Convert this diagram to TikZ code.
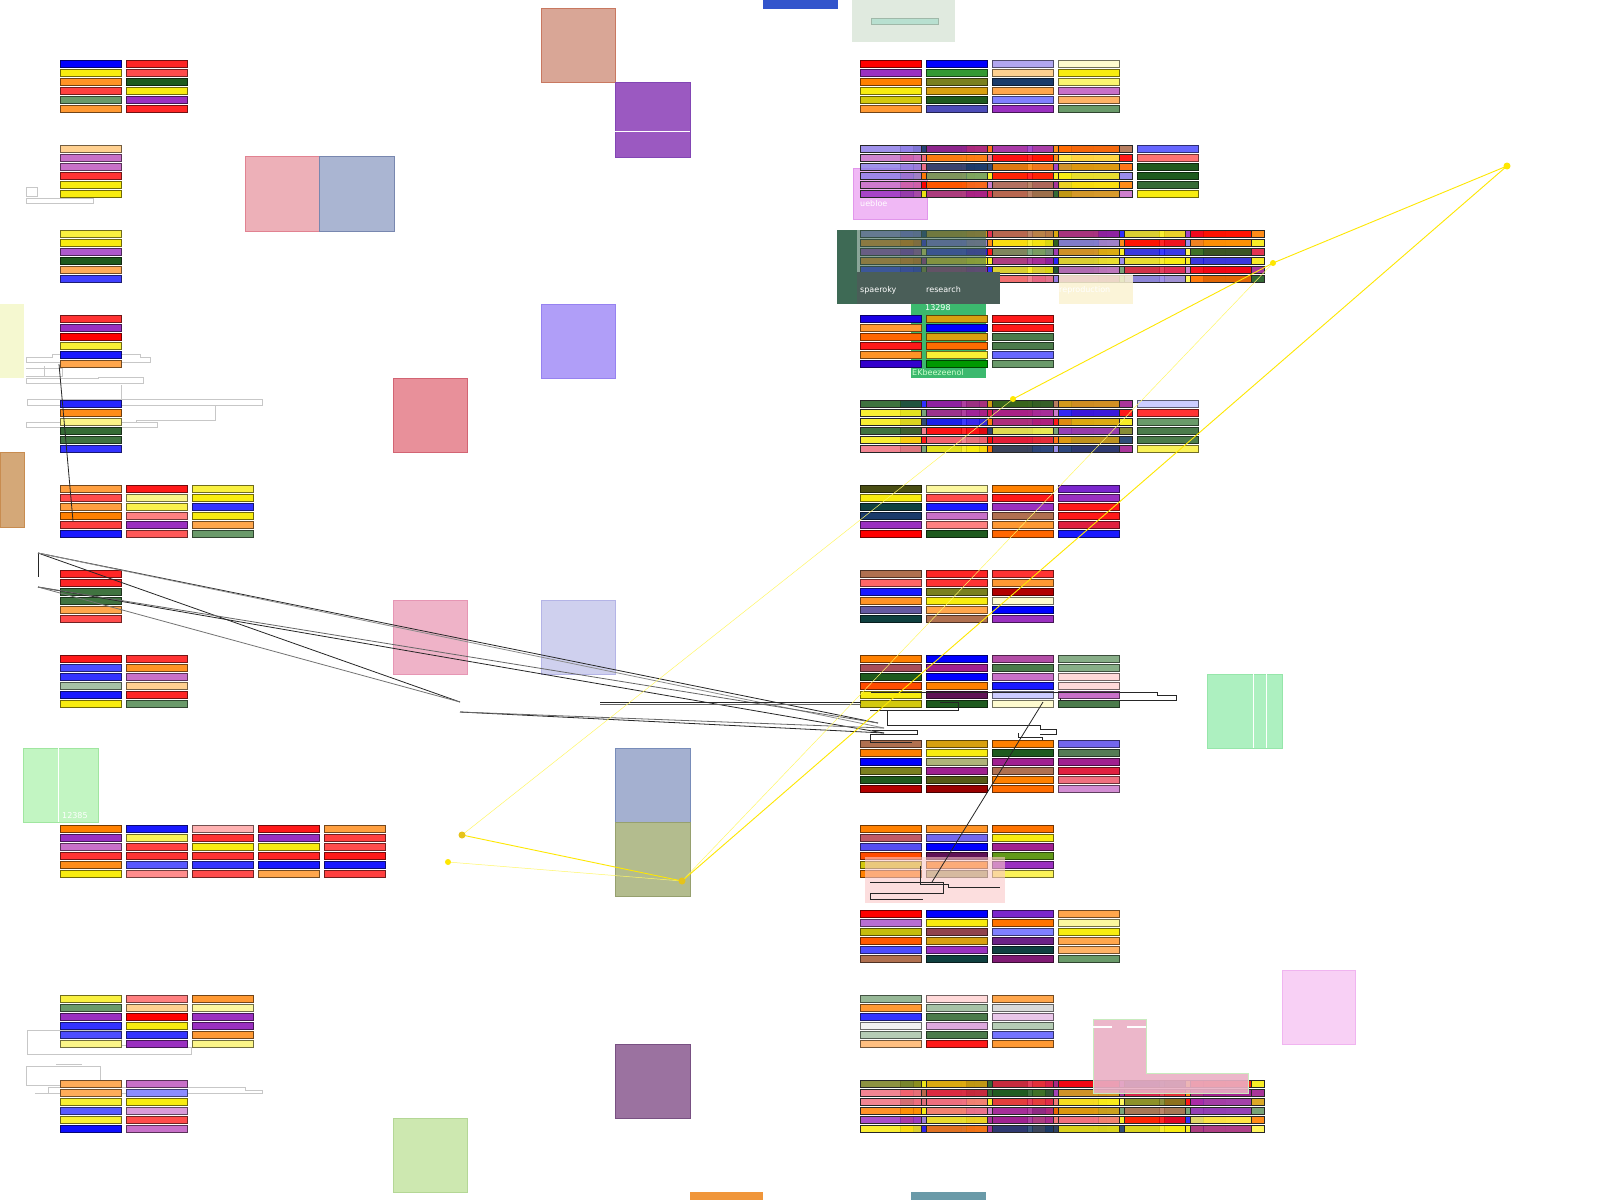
\documentclass[tikz,border=0pt]{standalone}
\usepackage{fontspec}
\setmainfont{DejaVu Sans}
\usetikzlibrary{calc}
\definecolor{cpurple}{HTML}{9A30C0}
\definecolor{corch}{HTML}{C870C8}
\definecolor{cgreen}{HTML}{1E5A1E}
\definecolor{csage}{HTML}{6A9A6A}
\definecolor{cnavy}{HTML}{1A3A6A}
\definecolor{cbrown}{HTML}{B07050}
\definecolor{ccrim}{HTML}{E02040}
\definecolor{cgold}{HTML}{D8A010}
\definecolor{clav}{HTML}{9080E8}
\definecolor{cpink}{HTML}{F07080}
\definecolor{colive}{HTML}{7A8020}
\definecolor{cpeach}{HTML}{FFD090}
\definecolor{cteal}{HTML}{0F4040}
\definecolor{cmag}{HTML}{A02090}
\definecolor{cyel}{HTML}{F8EC10}
\definecolor{cdkg}{HTML}{3E6A55}
\definecolor{sqSalmon}{HTML}{D9A696}
\definecolor{sqSalmonB}{HTML}{C87860}
\definecolor{sqPurp}{HTML}{9B59C1}
\definecolor{sqPurpB}{HTML}{8246B4}
\definecolor{sqTopBlue}{HTML}{3355CC}
\definecolor{sqPaleGreen}{HTML}{E0EADF}
\definecolor{sqMint}{HTML}{B8E0D0}
\definecolor{sqMintB}{HTML}{A0B8A8}
\definecolor{sqPink}{HTML}{EDB0B8}
\definecolor{sqPinkB}{HTML}{E18291}
\definecolor{sqBlueGray}{HTML}{AAB5D2}
\definecolor{sqBlueGrayB}{HTML}{7887AF}
\definecolor{sqPaleYel}{HTML}{F5F8D0}
\definecolor{sqTan}{HTML}{D4A878}
\definecolor{sqTanB}{HTML}{C88C50}
\definecolor{sqLav}{HTML}{B09EF8}
\definecolor{sqLavB}{HTML}{9682F0}
\definecolor{sqRed}{HTML}{E8909A}
\definecolor{sqRedB}{HTML}{D26473}
\definecolor{sqPink2}{HTML}{EFB3C8}
\definecolor{sqPink2B}{HTML}{E696B4}
\definecolor{sqLavBlue}{HTML}{CFD0EE}
\definecolor{sqLavBlueB}{HTML}{B4B4E6}
\definecolor{sqLGreen}{HTML}{C2F5C2}
\definecolor{sqLGreenB}{HTML}{A0E6A0}
\definecolor{sqBG2}{HTML}{A4B0D0}
\definecolor{sqBG2B}{HTML}{788CB9}
\definecolor{sqOlive}{HTML}{B3BC8E}
\definecolor{sqOliveB}{HTML}{96A06E}
\definecolor{sqDPurp}{HTML}{9B72A0}
\definecolor{sqDPurpB}{HTML}{785082}
\definecolor{sqLime}{HTML}{CDE8B0}
\definecolor{sqLimeB}{HTML}{B4D796}
\definecolor{sqOrange}{HTML}{F0963A}
\definecolor{sqTeal}{HTML}{6A9AA8}
\definecolor{sqMintG}{HTML}{ADF0C0}
\definecolor{sqMintGB}{HTML}{96E6AA}
\definecolor{sqLilac}{HTML}{F8D0F5}
\definecolor{sqLilacB}{HTML}{F0B4F0}
\definecolor{sqLilac2}{HTML}{F0B8F5}
\definecolor{sqLilac2B}{HTML}{E196EB}
\definecolor{sqGreen}{HTML}{3CB96E}
\definecolor{sqDark}{HTML}{4A5E58}
\definecolor{sqCream}{HTML}{FBF3D2}
\definecolor{sqLPink}{HTML}{FAC8C8}
\definecolor{sqRose}{HTML}{EBB0C5}
\definecolor{sqRoseB}{HTML}{C8EBBE}
\pgfmathdeclarerandomlist{pal}{{red}{blue!90}{cyel}{orange}{cpurple}{corch}{cgreen}{csage}{cnavy}{cbrown}{ccrim}{cgold}{clav}{cpink}{colive}{cmag}{yellow!70}{orange!80!red}{cmag}{cyel}{orange}}
\newcommand{\grp}[3]{\foreach \cc [count=\ii from 0] in {#3}{\colorlet{bfc}{\cc}\draw[bar,fill=bfc,draw=bfc!45!black] (#1,{#2+9*\ii}) rectangle ++(61,7);}}
\newcommand{\mess}[3]{%
  \foreach \xo in {#3}{\foreach \ii in {0,...,5}{\pgfmathrandomitem{\cc}{pal}\draw[mbar,fill=\cc] (\xo,{#1+9*\ii}) rectangle ++(61,7);}}%
  \foreach \xo in {#2}{\foreach \ii in {0,...,5}{\pgfmathrandomitem{\cc}{pal}\draw[mbar,fill=\cc,fill opacity=0.85] (\xo,{#1+9*\ii}) rectangle ++(61,7);}}}
\begin{document}
\begin{tikzpicture}[x=1pt,y=-1pt,
  bar/.style={line width=0.9pt},
  mbar/.style={line width=0.8pt,draw=black!85,fill opacity=0.9},
  sq/.style={line width=0.6pt},
  gline/.style={draw=black!22,line width=0.9pt},
  kline/.style={draw=black!85,line width=0.8pt},
  yline/.style={draw=yellow!90!orange,line width=0.9pt},
  pyline/.style={draw=yellow!60,line width=0.5pt},
  lbl/.style={text=white,font=\fontsize{8}{8}\selectfont,inner sep=0pt,anchor=west}]
\pgfmathsetseed{23}
\fill[white] (0,0) rectangle (1600,1200);
\useasboundingbox (0,0) rectangle (1600,1200);
% ---- squares ----
\filldraw[sq,fill=sqSalmon,draw=sqSalmonB] (541,8) rectangle (615,82);
\filldraw[sq,fill=sqPurp,draw=sqPurpB] (615,82) rectangle (690,157);
\draw[white,line width=0.8pt] (615,131) -- (690,131);
\fill[sqTopBlue] (763,0) rectangle (838,9);
\fill[sqPaleGreen] (852,0) rectangle (955,42);
\filldraw[fill=sqMint,draw=sqMintB] (871,18) rectangle (938,24);
\filldraw[sq,fill=sqPink,draw=sqPinkB] (245,156) rectangle (319,231);
\filldraw[sq,fill=sqBlueGray,draw=sqBlueGrayB] (319,156) rectangle (394,231);
\fill[sqPaleYel] (0,304) rectangle (24,378);
\filldraw[sq,fill=sqTan,draw=sqTanB] (0,452) rectangle (24,527);
\filldraw[sq,fill=sqLav,draw=sqLavB] (541,304) rectangle (615,378);
\filldraw[sq,fill=sqRed,draw=sqRedB] (393,378) rectangle (467,452);
\filldraw[sq,fill=sqPink2,draw=sqPink2B] (393,600) rectangle (467,674);
\filldraw[sq,fill=sqLavBlue,draw=sqLavBlueB] (541,600) rectangle (615,674);
\filldraw[sq,fill=sqLGreen,draw=sqLGreenB] (23,748) rectangle (98,822);
\draw[white,line width=0.8pt] (58,748) -- (58,822);
\node[lbl] (t12385) at (62,816) {12385};
\filldraw[sq,fill=sqBG2,draw=sqBG2B] (615,748) rectangle (690,822);
\filldraw[sq,fill=sqOlive,draw=sqOliveB] (615,822) rectangle (690,896);
\filldraw[sq,fill=sqDPurp,draw=sqDPurpB] (615,1044) rectangle (690,1118);
\filldraw[sq,fill=sqLime,draw=sqLimeB] (393,1118) rectangle (467,1192);
\fill[sqOrange] (690,1192) rectangle (763,1200);
\fill[sqTeal] (911,1192) rectangle (986,1200);
\filldraw[sq,fill=sqMintG,draw=sqMintGB] (1207,674) rectangle (1282,748);
\draw[white,line width=0.8pt] (1253,674) -- (1253,748) (1266,674) -- (1266,748);
\filldraw[sq,fill=sqLilac,draw=sqLilacB] (1282,970) rectangle (1355,1044);
\filldraw[sq,fill=sqLilac2,draw=sqLilac2B] (853,168) rectangle (927,219);
\node[lbl] (tueb) at (860,204) {uebloe};
\fill[sqGreen] (911,304) rectangle (986,378);
% ---- gray bracket outlines ----
\draw[gline] (26,187) rectangle (37,196) (26,198) -- (93,198) -- (93,203) -- (26,203) -- cycle;
\draw[gline] (26,357) -- (52,357) -- (52,354) -- (140,354) -- (140,357) -- (150,357) -- (150,362) -- (26,362) -- cycle;
\draw[gline] (26,368) -- (62,368) -- (62,376) -- (26,376) (44,366) -- (44,376);
\draw[gline] (26,378) -- (98,378) -- (98,377) -- (143,377) -- (143,383) -- (26,383) -- cycle;
\draw[gline] (27,399) -- (262,399) -- (262,405) -- (27,405) -- cycle (121,385) -- (121,399);
\draw[gline] (215,405) -- (215,420) -- (136,420) -- (136,422);
\draw[gline] (26,422) -- (157,422) -- (157,427) -- (26,427) -- cycle;
\draw[gline] (27,1030) -- (27,1054) -- (191,1054) -- (191,1047) -- (153,1047) -- (153,1045) -- (121,1045) -- (121,1030) -- cycle;
\draw[gline] (26,1066) -- (26,1085) -- (100,1085) -- (100,1066) -- cycle (56,1064) -- (82,1064);
\draw[gline] (35,1093) -- (262,1093) -- (262,1090) -- (245,1090) -- (245,1087) -- (48,1087) -- (48,1093);
% ---- left groups ----
\grp{60}{60}{blue,cyel,orange!85,red!75,csage,orange!80}
\grp{126}{60}{red!85,red!70,cgreen,cyel,cpurple,red!85}
\grp{60}{145}{cpeach,corch,corch,red!80,cyel,cyel}
\grp{60}{230}{cyel!80,cyel,cpurple!80,cgreen,orange!65,blue!75}
\grp{60}{315}{red!80,cpurple,red,cyel!85,blue!90,orange!70}
\grp{60}{400}{blue!85,orange!90,cyel!50,cgreen!90,cgreen!85,blue!80}
\grp{60}{485}{orange!75,red!70,orange!75,orange,red!75,blue!90}
\grp{126}{485}{red!90,cyel!50,cyel!75,red!50,cpurple,red!65}
\grp{192}{485}{cyel!80,cyel,blue!80,cyel,orange!70,csage}
\grp{60}{570}{red!85,red!85,cgreen!85,cgreen!85,orange!70,red!70}
\grp{60}{655}{red!90,blue!70,blue!80,csage!60,blue!90,cyel}
\grp{126}{655}{red!80,orange!85,corch,cpeach,red!85,csage}
\grp{60}{825}{orange,cpurple,corch,red!80,orange!90,cyel}
\grp{126}{825}{blue!90,cyel!70,red!75,red!80,blue!65,red!45}
\grp{192}{825}{red!30,red!80,cyel,red!80,blue!80,red!70}
\grp{258}{825}{red!90,cpurple,cyel,red!85,blue!90,orange!70}
\grp{324}{825}{orange!75,red!75,red!70,red!90,blue!90,red!75}
\grp{60}{995}{cyel!80,csage,cpurple,blue!80,blue!70,cyel!50}
\grp{126}{995}{red!50,cpeach,red,cyel,blue!80,cpurple}
\grp{192}{995}{orange!80,cyel!40,cpurple,cpurple,orange!80,cyel!50}
\grp{60}{1080}{orange!65,orange!65,cyel!85,blue!65,cyel!85,blue!95}
\grp{126}{1080}{corch,blue!45,cyel,corch!70,red!70,corch}
% ---- right groups ----
\grp{860}{60}{red,cpurple,orange,cyel,cyel!85!black,orange!80}
\grp{926}{60}{blue,green!50!black!80,colive,cgold,cgreen,blue!60!black!70}
\grp{992}{60}{clav!70,cpeach,cnavy,orange!70,blue!50,cpurple}
\grp{1058}{60}{cyel!20,cyel,cyel!60,corch,orange!60,csage}
\mess{145}{860,926,992,1058}{900,913,966,1032,1071}
\grp{1137}{145}{blue!60,red!55,cgreen,cgreen,cgreen!90,cyel}
\mess{230}{860,926,992,1058,1124,1190}{900,913,966,1032,1045,1098,1164,1203}
\grp{860}{315}{blue!80!violet,orange!80,orange!80!red,red!90,orange!85,blue!60!violet}
\grp{926}{315}{cgold,blue,cgold,orange!85!red,cyel!85,green!60!black}
\grp{992}{315}{red!90,red!90,cgreen!80,cgreen!80,blue!60,csage}
\mess{400}{860,926,992,1058}{900,966,979,1032,1071}
\grp{1137}{400}{blue!20,red!80,csage,cgreen!80,cgreen!80,cyel!70}
\grp{860}{485}{colive!60!black,cyel,cteal,cnavy,cpurple,red}
\grp{926}{485}{cyel!40,red!70,blue!90,corch,red!50,cgreen}
\grp{992}{485}{orange,red!90,cpurple,cbrown,orange!80,orange!80!red}
\grp{1058}{485}{cpurple!80!blue,cpurple,red!90,red!90,ccrim,blue!90}
\grp{860}{570}{cbrown,red!60,blue!90,orange!85,clav!70!black,cteal}
\grp{926}{570}{red!85,red!80,colive,cyel,orange!70,cbrown}
\grp{992}{570}{red!80,orange!80,red!70!black,cyel!20,blue,cpurple}
\grp{860}{655}{orange,cpink!70!black,cgreen,orange!60!red,cyel,cyel!85!black}
\grp{926}{655}{blue,cmag,blue,orange,cmag!60!black,cgreen}
\grp{992}{655}{cmag!80,cgreen!80,corch,blue!90,blue!20,cyel!20}
\grp{1058}{655}{csage!80,csage!80,red!15,red!15,corch,cgreen!80}
\grp{860}{740}{cbrown,orange,blue,colive,cgreen,red!70!black}
\grp{926}{740}{cgold,cyel,colive!60,cmag,colive!70!black,red!60!black}
\grp{992}{740}{orange,cgreen,cmag,cbrown,orange,orange!85!red}
\grp{1058}{740}{clav!80!blue,csage!80!black,cmag,ccrim,cpink,corch!80}
\grp{860}{825}{orange,cpink!80!black,clav!60!blue,orange!60!red,cyel!85!black,orange}
\grp{926}{825}{orange!85,clav!80!blue,blue,cmag!60!black,orange,colive!70}
\grp{992}{825}{orange!90!red,cyel,cmag,colive!80!green,cpurple,cyel!70}
\grp{860}{910}{red,cpurple!70,cyel!80!black,orange!70!red,blue!70,cbrown}
\grp{926}{910}{blue,cyel,cpink!60!black,cgold,cpurple,cteal}
\grp{992}{910}{cpurple!80!blue,orange!90!red,blue!50,cpurple!70!black,cteal,cmag!80!black}
\grp{1058}{910}{orange!70,cyel!40,cyel,orange!70,orange!60,csage}
\grp{860}{995}{csage!70,orange!80,blue!80,black!5,csage!50,orange!50}
\grp{926}{995}{red!15,csage!60,cgreen!80,corch!60,cgreen!80,red!90}
\grp{992}{995}{orange!70,black!15,corch!40,csage!50,blue!55,orange!80}
\mess{1080}{860,926,992,1058,1124,1190}{900,913,966,1032,1045,1098,1164,1203}
% ---- overlays ----
\fill[cdkg,fill opacity=0.6] (856,230) rectangle (986,272);
\fill[cdkg] (837,230) rectangle (857,304);
\fill[sqDark] (857,272) rectangle (1000,304);
\node[lbl] (tspa) at (860,290) {spaeroky};
\node[lbl] (tres) at (926,290) {research};
\node[lbl] (t13298) at (925,308) {13298};
\node[lbl,text=white!80!green] (tbot) at (912,373) {EKbeezeenol};
\fill[sqCream,fill opacity=0.85] (1059,275) rectangle (1133,304);
\node[lbl] (trep) at (1059,290) {reproduction};
\fill[sqLPink,fill opacity=0.6] (865,857) rectangle (1005,903);
\filldraw[fill=sqRose,draw=sqRoseB,fill opacity=0.9,line width=0.6pt] (1093,1019) -- (1146,1019) -- (1146,1073) -- (1248,1073) -- (1248,1093) -- (1093,1093) -- cycle;
\draw[white,line width=1.2pt] (1093,1027) -- (1112,1027) (1127,1027) -- (1146,1027);
% ---- dark outline trees (right) ----
\draw[kline,line width=0.6pt] (871,692) -- (1157,692) -- (1157,695) -- (1176,695) -- (1176,700) -- (1060,700) -- (1060,698);
\draw[kline,line width=0.6pt] (887,711) -- (887,725) -- (1040,725) -- (1040,729) -- (1056,729) -- (1056,734) -- (1040,734);
\draw[kline,line width=0.6pt] (870,710) -- (958,710) -- (958,707) (872,730) -- (917,730) -- (917,734) -- (870,734) -- (870,742) -- (912,742);
\draw[kline,line width=0.6pt] (1018,733) -- (1018,737) -- (1042,737) -- (1042,740);
\draw[kline,line width=0.6pt] (920,866) -- (920,884) -- (948,884) -- (948,887) -- (1000,887) (870,882) -- (943,882) -- (943,893) -- (870,893) -- (870,899) -- (923,899);
\draw[kline,line width=0.6pt] (940,702) -- (958,702) -- (958,707);
% ---- black connectors ----
\coordinate (a1) at (38,553);
\coordinate (a2) at (38,587);
\coordinate (m1) at (460,702);
\coordinate (m2) at (460,712);
\coordinate (h1) at (600,702);
\coordinate (h2) at (861,702);
\coordinate (r1) at (878,723);
\coordinate (r2) at (884,728);
\coordinate (r3) at (884,733);
\coordinate (v1) at (59,364);
\coordinate (v2) at (73,521);
\coordinate (d1) at (1043,702);
\coordinate (d2) at (932,882);
\draw[kline] (a1) -- (38,577);
\draw[kline] (a1) -- (m1);
\draw[kline] (a1) -- (r1);
\draw[kline,draw=black!45] (a1) -- (r2);
\draw[kline] (a2) -- (r3);
\draw[kline,draw=black!60] (a2) -- (r1);
\draw[kline,draw=black!55] (a2) -- (m1);
\draw[kline] (m2) -- (r3);
\draw[kline,draw=black!60] (m2) -- (r2);
\draw[kline] (h1) -- (h2);
\draw[kline,draw=black!60] ($(h1)+(0,2)$) -- ($(h2)+(0,2)$);
\draw[kline] (v1) -- (v2);
\draw[kline] (d1) -- (d2);
% ---- yellow connectors ----
\coordinate (Y1) at (1507,166);
\coordinate (Y2) at (1273,263);
\coordinate (Y3) at (1013,399);
\coordinate (Y4) at (462,835);
\coordinate (Y5) at (448,862);
\coordinate (Y6) at (682,881);
\draw[pyline] (Y2) -- (Y6);
\draw[pyline] (Y4) -- (Y3);
\draw[pyline] (Y5) -- (Y6);
\draw[yline] (Y1) -- (Y2);
\draw[yline] (Y2) -- (Y3);
\draw[yline] (Y1) -- (Y6);
\draw[yline] (Y4) -- (Y6);
\fill[yellow!90!orange] (Y1) circle (3.5) (Y2) circle (3) (Y3) circle (3) (Y5) circle (3);
\fill[yellow!70!orange!90!black] (Y4) circle (3.5) (Y6) circle (3.5);
\end{tikzpicture}
\end{document}
